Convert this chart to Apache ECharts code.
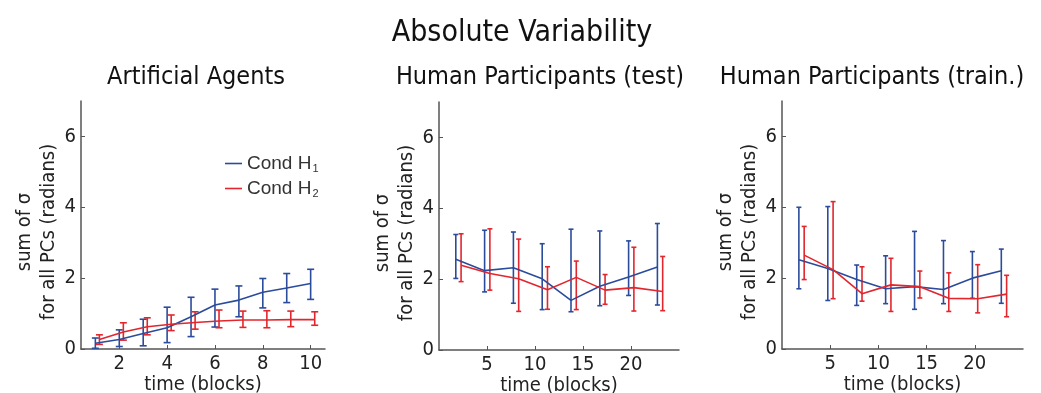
<!DOCTYPE html>
<html>
<head>
<meta charset="utf-8">
<script src="https://cdn.jsdelivr.net/npm/echarts@6/dist/echarts.min.js"></script>
<style>
  html, body { margin: 0; padding: 0; background: #fff; }
  #chart { width: 1041px; height: 393px; }
</style>
</head>
<body>
<div id="chart"></div>
<script>
// blocks on the x axis
const agentBlocks = [1, 2, 3, 4, 5, 6, 7, 8, 9, 10];
const humanBlocks = [2, 5, 8, 11, 14, 17, 20, 23];

// Artificial Agents
const agentH1Mean = [0.16, 0.27, 0.44, 0.60, 0.91, 1.24, 1.38, 1.60, 1.72, 1.85];
const agentH1Low  = [0.02, 0.07, 0.09, 0.18, 0.35, 0.62, 0.91, 1.16, 1.31, 1.40];
const agentH1High = [0.31, 0.54, 0.84, 1.18, 1.46, 1.69, 1.78, 1.99, 2.13, 2.25];
const agentH2Mean = [0.27, 0.48, 0.63, 0.70, 0.75, 0.79, 0.82, 0.82, 0.83, 0.83];
const agentH2Low  = [0.13, 0.25, 0.40, 0.52, 0.56, 0.60, 0.61, 0.60, 0.63, 0.67];
const agentH2High = [0.40, 0.74, 0.88, 0.96, 1.05, 1.10, 1.07, 1.08, 1.07, 1.05];

// Human Participants (test)
const testH1Mean = [2.56, 2.24, 2.32, 2.01, 1.40, 1.80, 2.06, 2.34];
const testH1Low  = [2.02, 1.64, 1.32, 1.14, 1.08, 1.25, 1.54, 1.27];
const testH1High = [3.26, 3.38, 3.33, 3.00, 3.41, 3.36, 3.08, 3.57];
const testH2Mean = [2.39, 2.16, 2.01, 1.70, 2.05, 1.69, 1.76, 1.65];
const testH2Low  = [1.93, 1.69, 1.09, 1.15, 1.14, 1.29, 1.10, 1.11];
const testH2High = [3.28, 3.42, 3.13, 2.35, 2.51, 2.13, 2.90, 2.64];

// Human Participants (train.)
const trainH1Mean = [2.52, 2.27, 1.96, 1.70, 1.76, 1.68, 2.00, 2.21];
const trainH1Low  = [1.70, 1.37, 1.23, 1.28, 1.12, 1.28, 1.43, 1.29];
const trainH1High = [4.00, 4.02, 2.37, 2.63, 3.32, 3.06, 2.75, 2.82];
const trainH2Mean = [2.65, 2.24, 1.56, 1.81, 1.76, 1.43, 1.42, 1.55];
const trainH2Low  = [1.96, 1.42, 1.35, 1.06, 1.44, 1.06, 1.02, 0.91];
const trainH2High = [3.46, 4.16, 2.32, 2.56, 2.20, 2.15, 2.38, 2.08];

const yTicks = [0, 2, 4, 6];
const agentXTicks = [2, 4, 6, 8, 10];
const humanXTicks = [5, 10, 15, 20];

const BLUE = '#2b4b9b';
const RED = '#e2262d';
const FONT = "'Liberation Sans Narrow', 'DejaVu Sans Condensed', sans-serif";
const AXIS = '#555';

const chart = echarts.init(document.getElementById('chart'));

function xAxisFor(idx, min, max, ticks) {
  return {
    gridIndex: idx, type: 'value', min: min, max: max,
    axisLine: { lineStyle: { color: AXIS, width: 1.5 } },
    axisTick: { inside: true, length: 4, customValues: ticks, lineStyle: { color: AXIS } },
    axisLabel: { customValues: ticks, margin: 5, fontSize: 20, color: '#222', fontFamily: FONT },
    splitLine: { show: false },
    name: 'time (blocks)', nameLocation: 'middle', nameGap: 26, nameMoveOverlap: false,
    nameTextStyle: { fontSize: 20, color: '#222', fontFamily: FONT }
  };
}

function yAxisFor(idx) {
  return {
    gridIndex: idx, type: 'value', min: 0, max: 7,
    axisLine: { show: true, lineStyle: { color: AXIS, width: 1.5 } },
    axisTick: { show: true, inside: true, length: 4, customValues: yTicks, lineStyle: { color: AXIS } },
    axisLabel: { customValues: yTicks, margin: 5, fontSize: 20, color: '#222', fontFamily: FONT },
    splitLine: { show: false },
    name: 'sum of σ\nfor all PCs (radians)', nameLocation: 'middle', nameGap: 20,
    nameTextStyle: { fontSize: 20, lineHeight: 24, color: '#222', fontFamily: FONT, padding: [0, 14, 0, 0] }
  };
}

function pairs(xs, ys, off) {
  return xs.map((x, i) => [x + off, ys[i]]);
}
function bars(xs, lo, hi, off) {
  return xs.map((x, i) => [x + off, lo[i], hi[i]]);
}

function lineSeries(name, idx, data, color) {
  return {
    name: name, type: 'line', xAxisIndex: idx, yAxisIndex: idx,
    data: data, symbol: 'none', smooth: false,
    lineStyle: { color: color, width: 1.6 }, itemStyle: { color: color },
    animation: false
  };
}

function errSeries(name, idx, data, color, cap) {
  return {
    name: name, type: 'custom', xAxisIndex: idx, yAxisIndex: idx,
    data: data, animation: false, itemStyle: { color: color },
    renderItem: function (params, api) {
      const x = api.value(0);
      const lo = api.coord([x, api.value(1)]);
      const hi = api.coord([x, api.value(2)]);
      const style = { stroke: color, lineWidth: 1.6 };
      return {
        type: 'group',
        children: [
          { type: 'line', shape: { x1: lo[0], y1: lo[1], x2: hi[0], y2: hi[1] }, style: style },
          { type: 'line', shape: { x1: lo[0] - cap, y1: lo[1], x2: lo[0] + cap, y2: lo[1] }, style: style },
          { type: 'line', shape: { x1: hi[0] - cap, y1: hi[1], x2: hi[0] + cap, y2: hi[1] }, style: style }
        ]
      };
    }
  };
}

const panels = [
  { blocks: agentBlocks, b: [agentH1Mean, agentH1Low, agentH1High], r: [agentH2Mean, agentH2Low, agentH2High], ob: 0, or: 0.17, cap: 3.5 },
  { blocks: humanBlocks, b: [testH1Mean, testH1Low, testH1High], r: [testH2Mean, testH2Low, testH2High], ob: -0.25, or: 0.3, cap: 2.5 },
  { blocks: humanBlocks, b: [trainH1Mean, trainH1Low, trainH1High], r: [trainH2Mean, trainH2Low, trainH2High], ob: -0.25, or: 0.3, cap: 2.5 }
];

const series = [];
panels.forEach((p, i) => {
  series.push(lineSeries('Cond H1', i, pairs(p.blocks, p.b[0], p.ob), BLUE));
  series.push(lineSeries('Cond H2', i, pairs(p.blocks, p.r[0], p.or), RED));
  series.push(errSeries('Cond H1', i, bars(p.blocks, p.b[1], p.b[2], p.ob), BLUE, p.cap));
  series.push(errSeries('Cond H2', i, bars(p.blocks, p.r[1], p.r[2], p.or), RED, p.cap));
});

const option = {
  backgroundColor: '#fff',
  animation: false,
  title: [
    { text: 'Absolute Variability', left: 517, top: 13, textAlign: 'center',
      textStyle: { fontSize: 30, fontWeight: 'normal', color: '#111', fontFamily: FONT } },
    { text: 'Artificial Agents', left: 191, top: 60, textAlign: 'center',
      textStyle: { fontSize: 25, fontWeight: 'normal', color: '#111', fontFamily: FONT } },
    { text: 'Human Participants (test)', left: 535, top: 60, textAlign: 'center',
      textStyle: { fontSize: 25, fontWeight: 'normal', color: '#111', fontFamily: FONT } },
    { text: 'Human Participants (train.)', left: 867, top: 60, textAlign: 'center',
      textStyle: { fontSize: 25, fontWeight: 'normal', color: '#111', fontFamily: FONT } }
  ],
  legend: {
    data: ['Cond H1', 'Cond H2'],
    orient: 'vertical', left: 220, top: 149, itemGap: 5,
    icon: 'rect', itemWidth: 17, itemHeight: 1.6,
    formatter: function (name) { return name.replace(/(\d)$/, '{sub|$1}'); },
    textStyle: {
      fontSize: 19, color: '#333', fontFamily: "'Liberation Sans', Arial, sans-serif",
      rich: { sub: { fontSize: 11, color: '#333', padding: [10, 0, 0, 1], fontFamily: "'Liberation Sans', Arial, sans-serif" } }
    },
    selectedMode: false
  },
  grid: [
    { left: 81, top: 101, width: 244, height: 248, outerBoundsMode: 'none' },
    { left: 439, top: 102, width: 240, height: 248, outerBoundsMode: 'none' },
    { left: 782, top: 101, width: 241, height: 248, outerBoundsMode: 'none' }
  ],
  xAxis: [
    xAxisFor(0, 0.4, 10.6, agentXTicks),
    xAxisFor(1, 0, 25, humanXTicks),
    xAxisFor(2, 0, 25, humanXTicks)
  ],
  yAxis: [yAxisFor(0), yAxisFor(1), yAxisFor(2)],
  series: series
};

chart.setOption(option);
</script>
</body>
</html>
